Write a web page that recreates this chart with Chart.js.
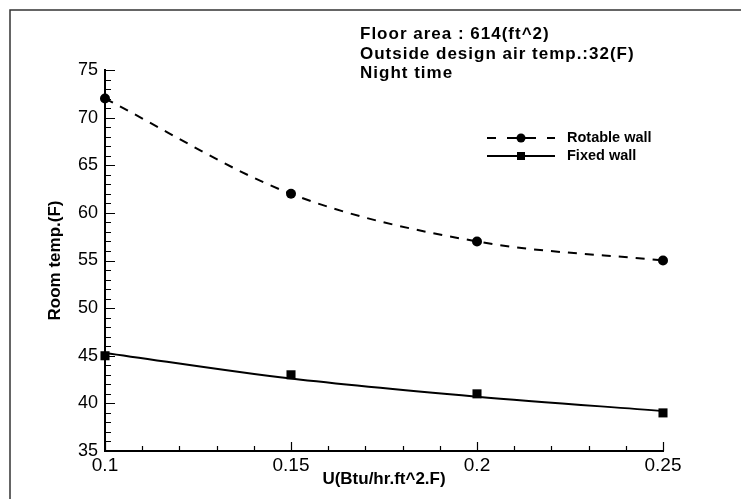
<!DOCTYPE html>
<html>
<head>
<meta charset="utf-8">
<script src="https://cdn.jsdelivr.net/npm/chart.js@4/dist/chart.umd.min.js"></script>
<style>
  html, body { margin: 0; padding: 0; background: #fff; }
  #wrap { width: 741px; height: 499px; }
</style>
</head>
<body>
<div id="wrap"><canvas id="chart" width="741" height="499"></canvas></div>
<script>
// data
const uValues = [0.1, 0.15, 0.2, 0.25]
const rotableTemps = [72, 62, 57, 55]
const fixedTemps = [45, 43, 41, 39]
// fitted curve of the fixed wall (it does not pass exactly through the squares)
const fixedCurve = [45.3, 42.6, 40.7, 39.2]

const xTicks = [0.1, 0.15, 0.2, 0.25]
const yTicks = [35, 40, 45, 50, 55, 60, 65, 70, 75]

const notes = ['Floor area : 614(ft^2)', 'Outside design air temp.:32(F)', 'Night time']
const legendLabels = ['Rotable wall', 'Fixed wall']

const FONT = 'Arial, "Liberation Sans", Helvetica, sans-serif'

function pts(xs, ys) {
  return xs.map((x, i) => ({ x: x, y: ys[i] }))
}

// 边框、内向刻度、注释文字、图例
const decorPlugin = {
  id: 'decor',
  afterDraw(chart) {
    const ctx = chart.ctx
    const xs = chart.scales.x
    const ys = chart.scales.y
    const area = chart.chartArea
    ctx.save()

    // outer frame (cut off at right / bottom)
    ctx.strokeStyle = '#333'
    ctx.lineWidth = 1.5
    ctx.strokeRect(10, 10, 900, 700)

    // ticks pointing inward
    ctx.strokeStyle = '#000'
    ctx.lineWidth = 1.2
    ctx.beginPath()
    for (let v = 35; v <= 75; v++) {
      const y = Math.round(ys.getPixelForValue(v)) + 0.5
      const len = v % 5 === 0 ? 10 : 6
      ctx.moveTo(area.left, y)
      ctx.lineTo(area.left + len, y)
    }
    for (let k = 10; k <= 25; k++) {
      const x = Math.round(xs.getPixelForValue(k / 100)) + 0.5
      const len = k % 5 === 0 ? 9 : 5
      ctx.moveTo(x, area.bottom)
      ctx.lineTo(x, area.bottom - len)
    }
    ctx.stroke()

    // notes
    ctx.fillStyle = '#000'
    ctx.font = 'bold 17px ' + FONT
    ctx.letterSpacing = '1px'
    ctx.textBaseline = 'alphabetic'
    ctx.textAlign = 'left'
    notes.forEach((t, i) => ctx.fillText(t, 360, 39 + i * 19.5))
    ctx.letterSpacing = '0px'

    // legend
    const lx0 = 487, lx1 = 555, mid = 521
    const rows = [138, 156]
    ctx.lineWidth = 2
    ctx.beginPath()
    ctx.moveTo(lx0, rows[0]); ctx.lineTo(lx0 + 9, rows[0])
    ctx.moveTo(lx0 + 20, rows[0]); ctx.lineTo(lx0 + 49, rows[0])
    ctx.moveTo(lx1 - 8, rows[0]); ctx.lineTo(lx1, rows[0])
    ctx.moveTo(lx0, rows[1]); ctx.lineTo(lx1, rows[1])
    ctx.stroke()
    ctx.beginPath()
    ctx.arc(mid, rows[0], 4.5, 0, Math.PI * 2)
    ctx.fill()
    ctx.fillRect(mid - 4, rows[1] - 4, 8, 8)
    ctx.font = 'bold 14.5px ' + FONT
    ctx.textBaseline = 'middle'
    legendLabels.forEach((t, i) => ctx.fillText(t, 567, rows[i]))

    ctx.restore()
  }
}

new Chart(document.getElementById('chart'), {
  type: 'scatter',
  data: {
    datasets: [
      {
        label: legendLabels[0] + ' curve',
        data: pts(uValues, rotableTemps),
        showLine: true,
        borderColor: '#000',
        borderWidth: 2,
        borderDash: [9, 8],
        cubicInterpolationMode: 'monotone',
        pointRadius: 0
      },
      {
        label: legendLabels[0],
        data: pts(uValues, rotableTemps),
        showLine: false,
        pointStyle: 'circle',
        pointRadius: 5,
        backgroundColor: '#000',
        borderColor: '#000',
        borderWidth: 0
      },
      {
        label: legendLabels[1] + ' curve',
        data: pts(uValues, fixedCurve),
        showLine: true,
        borderColor: '#000',
        borderWidth: 2,
        cubicInterpolationMode: 'monotone',
        pointRadius: 0
      },
      {
        label: legendLabels[1],
        data: pts(uValues, fixedTemps),
        showLine: false,
        pointStyle: 'rect',
        pointRadius: 6.4,
        backgroundColor: '#000',
        borderColor: '#000',
        borderWidth: 0
      }
    ]
  },
  options: {
    responsive: false,
    animation: false,
    clip: false,
    layout: { padding: { left: 0, right: 78, top: 70, bottom: 0 } },
    plugins: {
      legend: { display: false },
      tooltip: { enabled: false }
    },
    scales: {
      x: {
        type: 'linear',
        min: 0.1,
        max: 0.25,
        afterFit(scale) { scale.height = 48 },
        afterBuildTicks(scale) { scale.ticks = xTicks.map(v => ({ value: v })) },
        grid: { display: false, drawTicks: false },
        border: { display: true, color: '#000', width: 2 },
        ticks: {
          padding: 3,
          color: '#000',
          font: { family: FONT, size: 19 },
          maxRotation: 0,
          callback: v => String(v)
        },
        title: {
          display: true,
          text: 'U(Btu/hr.ft^2.F)',
          color: '#000',
          font: { family: FONT, size: 17, weight: 'bold' },
          padding: { top: 0, bottom: 9 }
        }
      },
      y: {
        min: 35,
        max: 75,
        afterFit(scale) { scale.width = 105 },
        afterBuildTicks(scale) { scale.ticks = yTicks.map(v => ({ value: v })) },
        grid: { display: false, drawTicks: false },
        border: { display: true, color: '#000', width: 2 },
        ticks: {
          padding: 7,
          color: '#000',
          font: { family: FONT, size: 18 },
          callback: v => String(v)
        },
        title: {
          display: true,
          text: 'Room temp.(F)',
          color: '#000',
          font: { family: FONT, size: 17, weight: 'bold' },
          padding: { top: 45, bottom: 0 }
        }
      }
    }
  },
  plugins: [decorPlugin]
})
</script>
</body>
</html>
